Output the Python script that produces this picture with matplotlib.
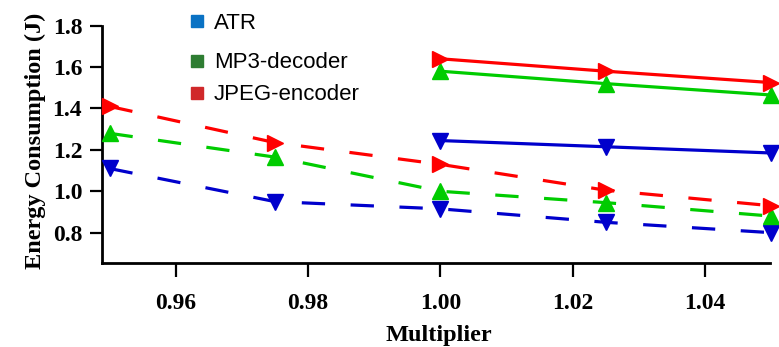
import numpy as np
import matplotlib.pyplot as plt
from matplotlib.lines import Line2D

# multiplier values
x_all = [0.95, 0.975, 1.00, 1.025, 1.05]
x_hi = [1.00, 1.025, 1.05]

# dashed series (all multipliers)
atr_dash = [1.11, 0.95, 0.915, 0.85, 0.80]
mp3_dash = [1.28, 1.165, 1.00, 0.945, 0.88]
jpeg_dash = [1.41, 1.235, 1.13, 1.005, 0.93]

# solid series (multiplier >= 1)
atr_solid = [1.245, 1.215, 1.185]
mp3_solid = [1.58, 1.52, 1.465]
jpeg_solid = [1.64, 1.58, 1.525]

series_names = ["ATR", "MP3-decoder", "JPEG-encoder"]
legend_colors = ["#0a72c4", "#2e7d32", "#d0282a"]

blue = "#0000cc"
green = "#00cc00"
red = "#ff0000"

serif = "Liberation Serif"
sans = "Liberation Sans"

fig = plt.figure(figsize=(7.79, 3.47), dpi=100)
ax = fig.add_axes([0.1305, 0.243, 0.858, 0.683])

lw = 2.3
ms = 11
dash = (7.3, 8.0)

for ys, c, m in [(atr_dash, blue, "v"), (mp3_dash, green, "^"), (jpeg_dash, red, ">")]:
    ax.plot(x_all, ys, color=c, lw=lw, dashes=dash, marker=m, ms=ms,
            clip_on=False, zorder=3)

for ys, c, m in [(atr_solid, blue, "v"), (mp3_solid, green, "^"), (jpeg_solid, red, ">")]:
    ax.plot(x_hi, ys, color=c, lw=lw, marker=m, ms=ms, clip_on=False, zorder=4)

ax.set_xlim(0.9488, 1.0498)
ax.set_ylim(0.655, 1.8)
ax.set_xticks([0.96, 0.98, 1.00, 1.02, 1.04])
ax.set_yticks([0.8, 1.0, 1.2, 1.4, 1.6, 1.8])
ax.xaxis.set_major_formatter(plt.FormatStrFormatter("%.2f"))
ax.yaxis.set_major_formatter(plt.FormatStrFormatter("%.1f"))

for s in ["top", "right"]:
    ax.spines[s].set_visible(False)
for s in ["left", "bottom"]:
    ax.spines[s].set_linewidth(2)

ax.tick_params(axis="x", direction="out", length=10, width=1.6, pad=12)
ax.tick_params(axis="y", direction="out", length=9, width=1.6, pad=5)
for lab in ax.get_xticklabels() + ax.get_yticklabels():
    lab.set_fontfamily(serif)
    lab.set_fontweight("bold")
    lab.set_fontsize(17)

ax.set_xlabel("Multiplier", fontfamily=serif, fontweight="bold", fontsize=17.5)
ax.set_ylabel("Energy Consumption (J)", fontfamily=serif, fontweight="bold", fontsize=17.5)
ax.xaxis.set_label_coords(0.505, -0.265)
ax.yaxis.set_label_coords(-0.083, 0.515)

handles = [Line2D([], [], ls="none", marker="s", ms=8.5, color=c) for c in legend_colors]
leg_kw = dict(frameon=False, handlelength=0.6, handletextpad=0.45,
              prop={"family": sans, "size": 16}, borderaxespad=0)
leg1 = ax.legend(handles[:1], series_names[:1], loc="upper left",
                 bbox_to_anchor=(0.12, 1.09), **leg_kw)
ax.add_artist(leg1)
ax.legend(handles[1:], series_names[1:], loc="upper left",
          bbox_to_anchor=(0.12, 0.925), labelspacing=0.5, **leg_kw)

fig.savefig("out.png", dpi=100)
